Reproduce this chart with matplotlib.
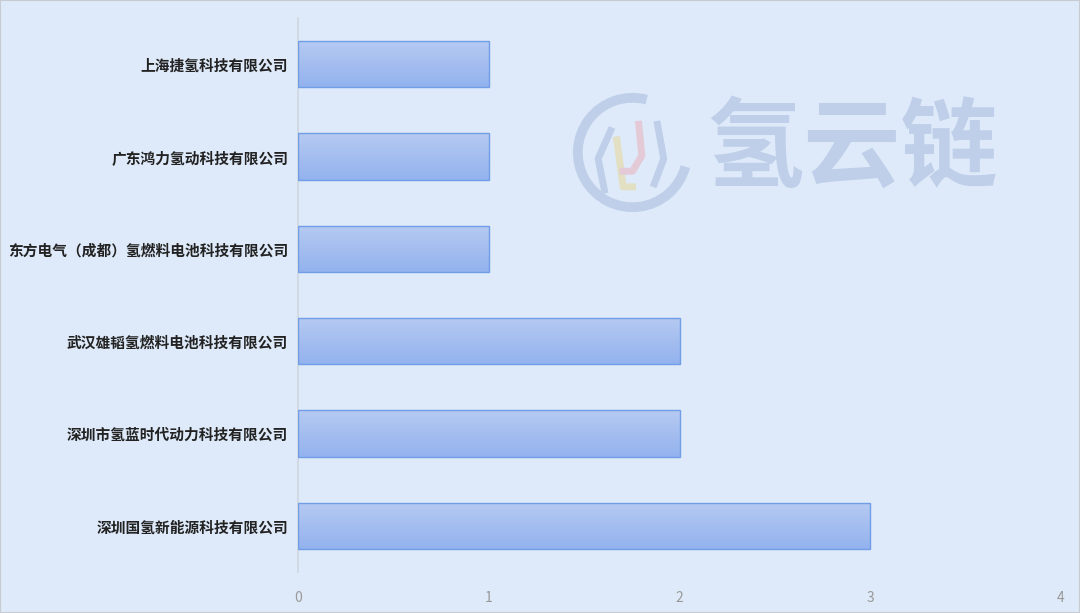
import numpy as np
import matplotlib.pyplot as plt
from matplotlib.patches import Arc, Rectangle
from matplotlib.colors import LinearSegmentedColormap

plt.rcParams['font.family'] = ['Noto Sans CJK SC', 'DejaVu Sans']

# 数据（自上而下）
companies = [
    "上海捷氢科技有限公司",
    "广东鸿力氢动科技有限公司",
    "东方电气（成都）氢燃料电池科技有限公司",
    "武汉雄韬氢燃料电池科技有限公司",
    "深圳市氢蓝时代动力科技有限公司",
    "深圳国氢新能源科技有限公司",
]
counts = [1, 1, 1, 2, 2, 3]
xticks = [0, 1, 2, 3, 4]

bg = "#deeaf9"
fig = plt.figure(figsize=(10.8, 6.13), dpi=100, facecolor=bg)
ax = fig.add_axes([298 / 1080, 1 - 572 / 613, 763 / 1080, 554 / 613])
ax.set_facecolor(bg)

ypos = np.arange(len(companies))
bars = ax.barh(ypos, counts, height=0.5, color="none", edgecolor="#6f9de6", linewidth=1.0, zorder=3)

# 渐变填充
cmap = LinearSegmentedColormap.from_list("g", ["#b6caf2", "#93b2ee"])
grad = np.linspace(0, 1, 100).reshape(-1, 1)
for b, y, v in zip(bars, ypos, counts):
    im = ax.imshow(grad, cmap=cmap, aspect="auto", extent=(0, v, y + 0.25, y - 0.25),
                   zorder=2, interpolation="bicubic")
    im.set_clip_path(b)

ax.set_xlim(0, 4)
ax.set_ylim(len(companies) - 0.5, -0.5)
ax.set_xticks(xticks)
ax.set_yticks(ypos)
ax.set_yticklabels(companies, fontsize=10.6, fontweight="bold", color="#222222")
ax.tick_params(axis="x", length=0, pad=14, labelsize=10, labelcolor="#999999")
ax.tick_params(axis="y", length=0, pad=7)
for s in ["top", "right", "bottom"]:
    ax.spines[s].set_visible(False)
ax.spines["left"].set_color("#cfd6e0")
ax.spines["left"].set_linewidth(1.2)

# 水印
wm = "#bfcfe9"
fig.text(852 / 1080, 1 - 150 / 613, "氢云链", fontsize=70, fontweight="bold", color=wm,
         ha="center", va="center", zorder=0)
lax = fig.add_axes([570 / 1080, 1 - 215 / 613, 125 / 1080, 125 / 613])
lax.set_xlim(-1, 1)
lax.set_ylim(-1, 1)
lax.set_aspect("equal")
lax.axis("off")
lax.add_patch(Arc((0, 0), 1.75, 1.75, theta1=75, theta2=345, lw=7, color=wm))
lax.plot([-0.35, -0.55, -0.45], [0.35, -0.1, -0.6], color=wm, lw=5)
lax.plot([-0.25, -0.15, 0.0], [0.2, -0.55, -0.55], color="#e2dfc2", lw=5)
lax.plot([0.1, 0.15, 0.0, -0.15], [0.45, -0.05, -0.3, -0.3], color="#e4c9d6", lw=5)
lax.plot([0.4, 0.5, 0.35], [0.45, -0.1, -0.5], color=wm, lw=5)

# 外框
fig.add_artist(Rectangle((0, 0), 1, 1, transform=fig.transFigure, fill=False,
                         edgecolor="#c8ccd2", lw=1.5))

fig.savefig("out.png", dpi=100, facecolor=bg)
